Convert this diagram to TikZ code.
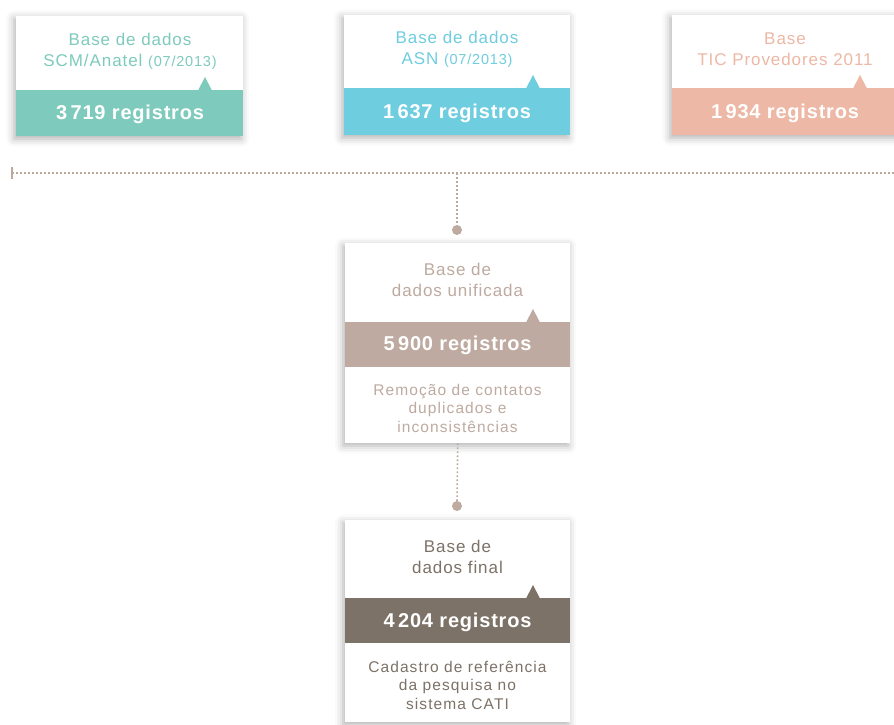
\documentclass[tikz,border=0pt]{standalone}
\usepackage{fontspec}
\setmainfont{Liberation Sans}
\newfontfamily\spacedfont[LetterSpace=5.5]{Liberation Sans}
\newfontfamily\smallfont[LetterSpace=7]{Liberation Sans}
\newfontfamily\bandfont[LetterSpace=4]{Liberation Sans}
\usetikzlibrary{shadows.blur}
\definecolor{cteal}{HTML}{7ECBBD}
\definecolor{ccyan}{HTML}{6FCDE0}
\definecolor{csalmon}{HTML}{EDB8A5}
\definecolor{ctaupe}{HTML}{BEAAA0}
\definecolor{cdark}{HTML}{7D7267}
\definecolor{cline}{HTML}{BBA99C}
\newcommand{\ngap}{\hspace{3.5pt}}
\begin{document}
\begin{tikzpicture}[x=1pt,y=-1pt,
  card/.style={draw=none,fill=white,anchor=north west,inner sep=0pt,
    blur shadow={shadow xshift=-2pt,shadow yshift=-2.5pt,shadow blur radius=8pt,shadow opacity=32}},
  title/.style={align=center,inner sep=0pt,font=\spacedfont\fontsize{17}{21}\selectfont},
  small/.style={align=center,inner sep=0pt,font=\smallfont\fontsize{15.5}{18.5}\selectfont},
  bandtxt/.style={inner sep=0pt,text=white,font=\bandfont\fontsize{20}{22}\selectfont\bfseries},
  dotline/.style={draw=cline,line width=1.6pt,dash pattern=on 1.6pt off 2.4pt},
  dot/.style={circle,fill=ctaupe,inner sep=0pt,minimum size=10pt}]
\useasboundingbox (0,0) rectangle (894,725);
\clip (0,0) rectangle (894,725);
% box 1
\node[card,minimum width=227pt,minimum height=120pt] (b1) at (16,16) {};
\fill[cteal] (16,90) rectangle (243,136);
\fill[cteal] (198,90.5) -- (205,77) -- (212,90.5) -- cycle;
\node[title,text=cteal] (t1) at (130,51.5) {Base de dados\\SCM/Anatel {\fontsize{14.5}{21}\selectfont(07/2013)}};
\node[bandtxt] (n1) at (130,114) {3\ngap719 registros};
% box 2
\node[card,minimum width=226pt,minimum height=120pt] (b2) at (344,15) {};
\fill[ccyan] (344,88) rectangle (570,135);
\fill[ccyan] (526,88.5) -- (533,75) -- (540,88.5) -- cycle;
\node[title,text=ccyan] (t2) at (457,49.5) {Base de dados\\ASN {\fontsize{14.5}{21}\selectfont(07/2013)}};
\node[bandtxt] (n2) at (457,113) {1\ngap637 registros};
% box 3
\node[card,minimum width=240pt,minimum height=120pt] (b3) at (672,15) {};
\fill[csalmon] (672,88) rectangle (912,135);
\fill[csalmon] (853,88.5) -- (860,75) -- (867,88.5) -- cycle;
\node[title,text=csalmon] (t3) at (785,49.5) {Base\\TIC Provedores 2011};
\node[bandtxt] (n3) at (785,113) {1\ngap934 registros};
% connectors
\coordinate (hl) at (12,173);
\coordinate (hr) at (894,173);
\coordinate (hm) at (457,173);
\draw[ctaupe,line width=2pt] (12,167) -- (12,179);
\draw[dotline] (hl) -- (hr);
\node[dot] (d1) at (457,230) {};
\draw[dotline] (hm) -- (d1.north);
% box 4
\node[card,minimum width=225pt,minimum height=200pt] (b4) at (345,243) {};
\fill[ctaupe] (345,322) rectangle (570,367);
\fill[ctaupe] (526,322.5) -- (533,309) -- (540,322.5) -- cycle;
\node[title,text=ctaupe] (t4) at (457.5,279.5) {Base de\\dados unificada};
\node[bandtxt] (n4) at (457.5,345.5) {5\ngap900 registros};
\node[small,text=ctaupe] (s4) at (457.5,408) {Remoção de contatos\\duplicados e\\inconsistências};
\node[dot] (d2) at (457,506) {};
\draw[dotline] (b4.south) -- (d2.north);
% box 5
\node[card,minimum width=225pt,minimum height=202pt] (b5) at (345,520) {};
\fill[cdark] (345,598) rectangle (570,643);
\fill[cdark] (526,598.5) -- (533,585) -- (540,598.5) -- cycle;
\node[title,text=cdark] (t5) at (457.5,556.5) {Base de\\dados final};
\node[bandtxt] (n5) at (457.5,622) {4\ngap204 registros};
\node[small,text=cdark] (s5) at (457.5,685) {Cadastro de referência\\da pesquisa no\\sistema CATI};
\end{tikzpicture}
\end{document}
